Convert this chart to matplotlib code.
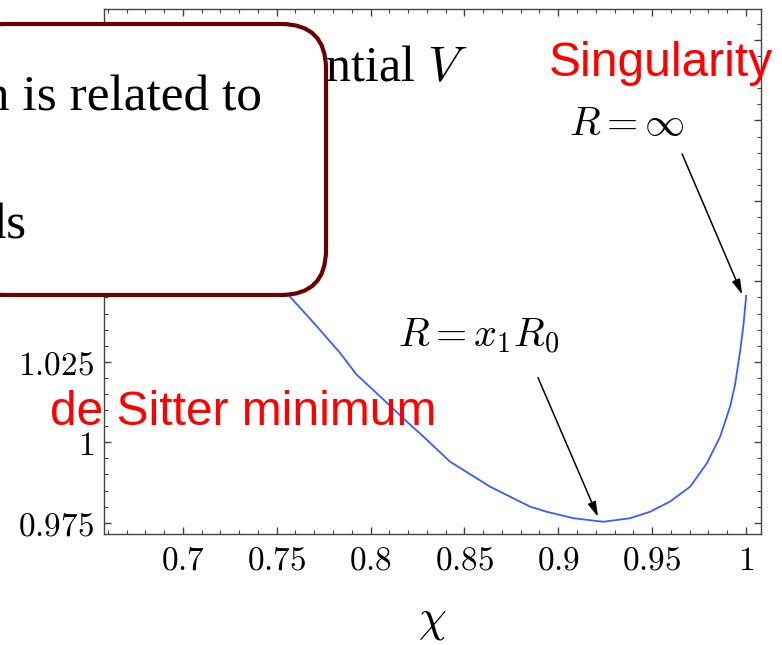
import numpy as np
import matplotlib.pyplot as plt
from matplotlib.patches import FancyBboxPatch
from matplotlib.transforms import IdentityTransform

plt.rcParams['mathtext.fontset'] = 'cm'

# potential V(chi) (first two points sit under the box)
chi = [0.700, 0.730, 0.7570, 0.7713, 0.7837, 0.7926, 0.8050, 0.8192, 0.8281,
       0.8423, 0.8637, 0.8850, 0.8939, 0.9081, 0.9240, 0.9383, 0.9489, 0.9596,
       0.9703, 0.9792, 0.9863, 0.9916, 0.9942, 0.9969, 0.9987, 0.99995, 1.0001]
pot = [1.090, 1.066, 1.0453, 1.0361, 1.0278, 1.0210, 1.0143, 1.0065, 1.0018,
       0.9940, 0.9862, 0.9800, 0.9784, 0.9764, 0.9753, 0.9764, 0.9784, 0.9816,
       0.9862, 0.9935, 1.0018, 1.0112, 1.0179, 1.0283, 1.0366, 1.0444, 1.0455]

xticks = [0.7, 0.75, 0.8, 0.85, 0.9, 0.95, 1.0]
xtick_labels = ['0.7', '0.75', '0.8', '0.85', '0.9', '0.95', '1']
yticks = [0.975, 1.0, 1.025, 1.05, 1.075, 1.1, 1.125]
ytick_labels = ['0.975', '1', '1.025', '1.05', '1.075', '1.1', '1.125']

minimum = (0.9212, 0.9768)
singularity = (0.998, 1.0459)

fig = plt.figure(figsize=(7.82, 6.45), dpi=100)
ax = fig.add_axes([0.133, 0.1721, 0.8401, 0.8132])

ax.plot(chi, pot, color='#3a5cff', lw=1.3, solid_joinstyle='round')

ax.set_xlim(0.658, 1.008)
ax.set_ylim(0.9715, 1.1345)
ax.set_xticks(xticks, ['$%s$' % s for s in xtick_labels])
ax.set_yticks(yticks, ['$%s$' % s for s in ytick_labels])
ax.set_xticks(np.arange(0.66, 1.0051, 0.01), minor=True)
ax.set_yticks(np.arange(0.975, 1.1341, 0.005), minor=True)
ax.tick_params(which='both', direction='in', top=True, right=True,
               color='#444444', labelsize=24, pad=7)
ax.tick_params(which='major', length=5, width=1)
ax.tick_params(which='minor', length=3, width=0.8)
for sp in ax.spines.values():
    sp.set_color('#444444')
    sp.set_linewidth(1)
ax.set_xlabel(r'$\chi$', fontsize=32, labelpad=16)

ax.text(0.8519, 1.1123, r'Potential $V$', ha='right', va='baseline',
        fontsize=36, family='Liberation Serif')
ax.text(0.8951, 1.1139, 'Singularity', color='red', fontsize=34.5,
        family='Liberation Sans', va='baseline')
ax.text(0.629, 1.0055, 'de Sitter minimum', color='red', fontsize=34.5,
        family='Liberation Sans', va='baseline')

ax.text(0.9367, 1.099, r'$R=\infty$', fontsize=29, ha='center', va='center')
ax.text(0.8578, 1.0329, r'$R=x_1R_0$', fontsize=29, ha='center', va='center')
arrow = dict(arrowstyle='-|>,head_length=0.9,head_width=0.25', color='black',
             lw=1.1, shrinkA=0, shrinkB=0)
ax.annotate('', xy=singularity, xytext=(0.966, 1.0896), arrowprops=arrow)
ax.annotate('', xy=minimum, xytext=(0.8892, 1.0201), arrowprops=arrow)

# rounded call-out box covering the upper left corner
box = FancyBboxPatch((-40, 350), 366, 271, transform=IdentityTransform(),
                     boxstyle='round,pad=0,rounding_size=45',
                     facecolor='white', edgecolor='#6b0000', lw=3)
fig.add_artist(box)
fig.text(0.335, 0.8295, 'The shape of this function is related to', ha='right',
         va='baseline', fontsize=37, family='Liberation Serif')
fig.text(0.0345, 0.631, 'fields', ha='right', va='baseline', fontsize=37,
         family='Liberation Serif')

fig.savefig('out.png', dpi=100)
